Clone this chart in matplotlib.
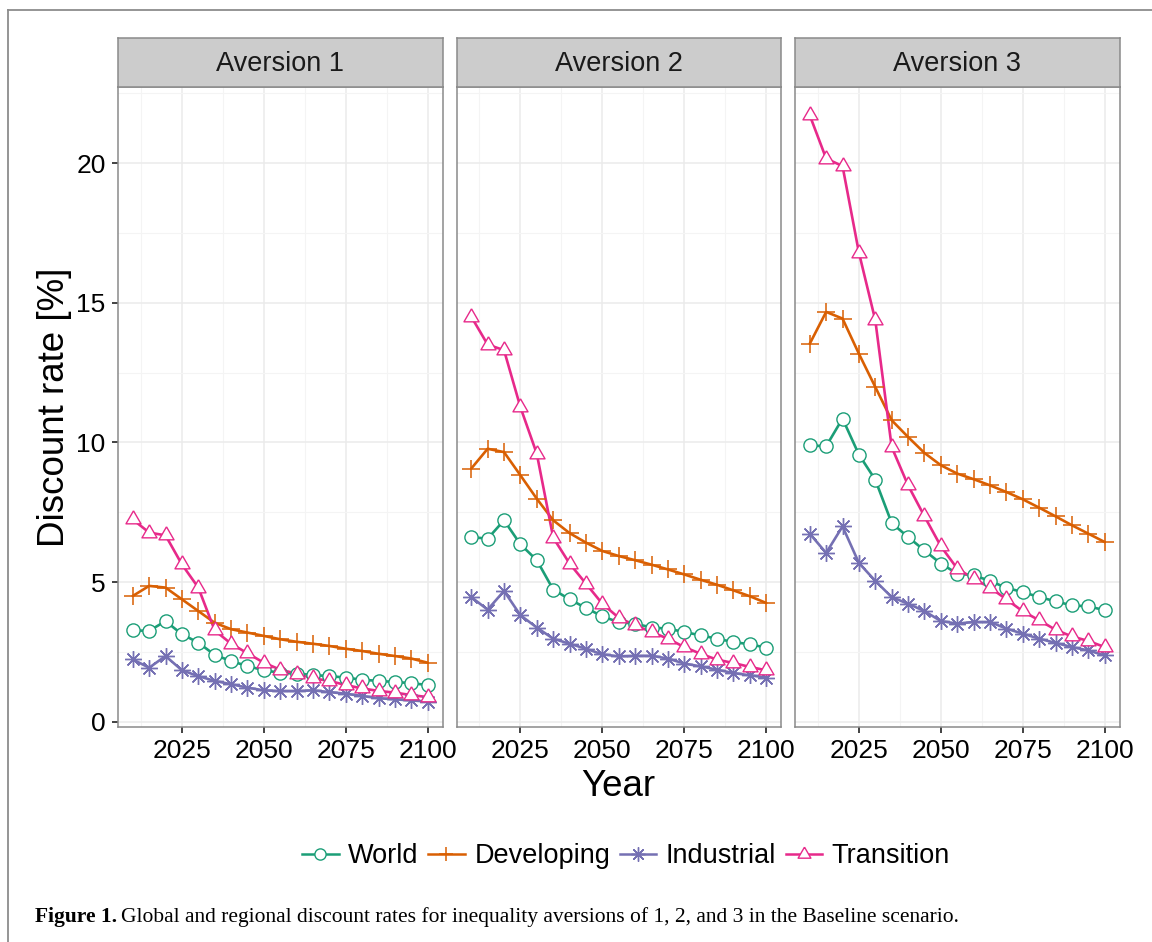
import matplotlib
matplotlib.use("Agg")
import matplotlib.pyplot as plt
from matplotlib.lines import Line2D
import numpy as np

# ---------------- data ----------------
years = list(range(2010, 2101, 5))
panels = ["Aversion 1", "Aversion 2", "Aversion 3"]
series_names = ["World", "Developing", "Industrial", "Transition"]

a1_world = [3.27, 3.25, 3.60, 3.13, 2.83, 2.39, 2.17, 1.99, 1.84, 1.75, 1.72, 1.67, 1.63, 1.58, 1.50, 1.46, 1.42, 1.38, 1.31]
a1_developing = [4.50, 4.86, 4.80, 4.38, 3.96, 3.54, 3.31, 3.19, 3.07, 2.95, 2.86, 2.79, 2.71, 2.61, 2.53, 2.43, 2.35, 2.26, 2.11]
a1_industrial = [2.23, 1.93, 2.35, 1.84, 1.63, 1.46, 1.34, 1.22, 1.12, 1.10, 1.10, 1.12, 1.06, 1.00, 0.92, 0.84, 0.80, 0.76, 0.72]
a1_transition = [7.24, 6.77, 6.67, 5.63, 4.80, 3.27, 2.79, 2.45, 2.11, 1.86, 1.72, 1.55, 1.46, 1.31, 1.19, 1.10, 1.04, 0.95, 0.88]

a2_world = [6.61, 6.55, 7.21, 6.35, 5.78, 4.73, 4.38, 4.07, 3.77, 3.56, 3.51, 3.37, 3.33, 3.21, 3.09, 2.97, 2.85, 2.77, 2.65]
a2_developing = [9.06, 9.77, 9.65, 8.82, 7.98, 7.21, 6.75, 6.41, 6.11, 5.93, 5.78, 5.62, 5.45, 5.27, 5.08, 4.90, 4.70, 4.49, 4.25]
a2_industrial = [4.46, 4.01, 4.68, 3.81, 3.37, 2.97, 2.79, 2.61, 2.41, 2.34, 2.36, 2.36, 2.26, 2.08, 1.98, 1.86, 1.74, 1.66, 1.58]
a2_transition = [14.50, 13.50, 13.30, 11.26, 9.59, 6.59, 5.66, 4.94, 4.22, 3.72, 3.45, 3.21, 2.97, 2.67, 2.43, 2.22, 2.10, 1.96, 1.84]

a3_world = [9.89, 9.86, 10.85, 9.56, 8.66, 7.11, 6.61, 6.13, 5.66, 5.30, 5.24, 5.04, 4.79, 4.64, 4.46, 4.31, 4.16, 4.13, 3.99]
a3_developing = [13.53, 14.67, 14.43, 13.17, 11.98, 10.79, 10.19, 9.62, 9.18, 8.88, 8.68, 8.46, 8.22, 7.96, 7.66, 7.35, 7.03, 6.73, 6.43]
a3_industrial = [6.73, 6.04, 6.99, 5.68, 5.04, 4.46, 4.22, 3.96, 3.60, 3.51, 3.57, 3.57, 3.33, 3.15, 2.97, 2.82, 2.67, 2.55, 2.37]
a3_transition = [21.71, 20.16, 19.89, 16.79, 14.37, 9.83, 8.46, 7.35, 6.28, 5.48, 5.12, 4.80, 4.38, 3.95, 3.63, 3.29, 3.05, 2.89, 2.67]

x_ticks = [2025, 2050, 2075, 2100]
y_ticks = [0, 5, 10, 15, 20]

panel_data = [
    [a1_world, a1_developing, a1_industrial, a1_transition],
    [a2_world, a2_developing, a2_industrial, a2_transition],
    [a3_world, a3_developing, a3_industrial, a3_transition],
]

# ---------------- style ----------------
colors = ["#1B9E77", "#D95F02", "#7570B3", "#E7298A"]
tri = [(0, 1), (-0.866, -0.5), (0.866, -0.5), (0, 1)]
markers = ["o", "+", (8, 2, 0), tri]
msizes = [9.5, 12.5, 12, 12.5]
mfaces = ["white", "none", "none", "white"]
mews = [1.0, 1.1, 1.0, 1.0]

plt.rcParams["font.family"] = ["Liberation Sans", "DejaVu Sans"]

W, H = 1152, 942
fig = plt.figure(figsize=(W / 100, H / 100), dpi=100)
fig.patch.set_facecolor("white")

def fx(px):
    return px / W

def fy(py):
    return 1 - py / H

# outer frame lines
fig.add_artist(Line2D([fx(8), 1.0], [fy(10), fy(10)], color="#8c8c8c", lw=1.3))
fig.add_artist(Line2D([fx(8), fx(8)], [fy(10), 0.0], color="#8c8c8c", lw=1.3))

panel_left = [118, 456.5, 795]
pw = 324.5
ptop, pbot = 87.3, 726.7
stop = 38.3

grid_col = "#EBEBEB"
border_col = "#8a8a8a"

for i, name in enumerate(panels):
    l = panel_left[i]
    ax = fig.add_axes([fx(l), fy(pbot), pw / W, (pbot - ptop) / H])
    ax.set_xlim(2005.5, 2104.5)
    ax.set_ylim(-0.18, 22.71)
    ax.set_xticks(x_ticks)
    ax.set_xticks([2012.5, 2037.5, 2062.5, 2087.5], minor=True)
    ax.set_yticks(y_ticks)
    ax.set_yticks([2.5, 7.5, 12.5, 17.5, 22.5], minor=True)
    ax.grid(True, which="major", color=grid_col, lw=1.1)
    ax.grid(True, which="minor", color="#F4F4F4", lw=0.8)
    ax.set_axisbelow(True)
    for sp in ax.spines.values():
        sp.set_color(border_col)
        sp.set_linewidth(1.1)
    ax.tick_params(axis="both", which="minor", length=0)
    ax.tick_params(axis="x", which="major", length=4.5, width=1.3, color="#333333",
                   labelsize=19, pad=4.5, labelcolor="black")
    if i == 0:
        ax.tick_params(axis="y", which="major", length=4.5, width=1.3, color="#333333",
                       labelsize=19, pad=4.5, labelcolor="black")
    else:
        ax.tick_params(axis="y", which="major", length=0, labelleft=False)

    vals = panel_data[i]
    for k in range(4):
        ax.plot(years, vals[k], color=colors[k], lw=1.9, zorder=2, solid_capstyle="round")
    for k in range(4):
        ax.plot(years, vals[k], linestyle="none", marker=markers[k], markersize=msizes[k],
                markerfacecolor=mfaces[k], markeredgecolor=colors[k], markeredgewidth=mews[k],
                zorder=3)

    sax = fig.add_axes([fx(l), fy(ptop), pw / W, (ptop - stop) / H])
    sax.set_facecolor("#CCCCCC")
    sax.set_xticks([])
    sax.set_yticks([])
    for sp in sax.spines.values():
        sp.set_color(border_col)
        sp.set_linewidth(1.1)
    sax.text(0.5, 0.47, name, ha="center", va="center", fontsize=19.5, color="#1a1a1a",
             transform=sax.transAxes)

# axis titles
fig.text(fx(55), fy(407), "Discount rate [%]", rotation=90, ha="center", va="center",
         fontsize=26.5, color="black")
fig.text(fx(618), fy(787), "Year", ha="center", va="center", fontsize=26.5, color="black")

# legend
handles = []
for k in range(4):
    handles.append(Line2D([0], [0], color=colors[k], lw=1.8, marker=markers[k],
                          markersize=msizes[k] * 0.85, markerfacecolor=mfaces[k],
                          markeredgecolor=colors[k], markeredgewidth=mews[k]))
fig.legend(handles, series_names, loc="center", bbox_to_anchor=(fx(626), fy(856)),
           ncol=4, frameon=False, fontsize=19.5, handlelength=1.35, handletextpad=0.35,
           columnspacing=0.35, borderaxespad=0)

# caption
cap_y = fy(922)
t1 = fig.text(fx(35), cap_y, "Figure 1.", fontsize=15.5, fontweight="bold",
              family=["Liberation Serif", "DejaVu Serif"], ha="left", va="baseline")
fig.canvas.draw()
bb = t1.get_window_extent(renderer=fig.canvas.get_renderer())
fig.text(bb.x1 / W + fx(4), cap_y,
         "Global and regional discount rates for inequality aversions of 1, 2, and 3 in the Baseline scenario.",
         fontsize=15.5, family=["Liberation Serif", "DejaVu Serif"], ha="left", va="baseline")

fig.savefig("out.png", dpi=100, facecolor="white")
